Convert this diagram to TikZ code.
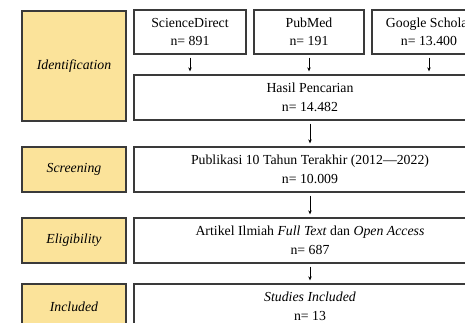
\documentclass[tikz,border=0pt]{standalone}
\usepackage{fontspec}
\setmainfont{Liberation Serif}
\usetikzlibrary{arrows.meta}
\definecolor{phase}{HTML}{FBE39A}
\definecolor{edge}{HTML}{3A3A3A}
\begin{document}
\begin{tikzpicture}[x=1pt,y=-1pt,
  base/.style={draw=edge,line width=1.3pt,rectangle,inner sep=0pt,align=center,
    font=\fontsize{13.8}{18.5}\selectfont},
  phasebox/.style={base,fill=phase,minimum width=104pt,font=\fontsize{13.8}{18.5}\selectfont\itshape},
  infobox/.style={base,fill=white},
  arr/.style={draw=black,line width=0.8pt,-{Stealth[length=4pt,width=3.5pt]},shorten <=3pt,shorten >=3pt}]
\useasboundingbox (0,0) rectangle (465,323);
\clip (0,0) rectangle (465,323);
% phase labels
\node[phasebox,minimum height=110pt] (pid) at (74,66) {Identification};
\node[phasebox,minimum height=45pt] (pscr) at (74,169.5) {Screening};
\node[phasebox,minimum height=45pt] (pel) at (74,240.5) {Eligibility};
\node[phasebox,minimum height=45pt] (pin) at (74,306.5) {Included};
% sources
\node[infobox,minimum width=112pt,minimum height=44pt] (sd) at (190,32) {ScienceDirect\\n= 891};
\node[infobox,minimum width=110pt,minimum height=44pt] (pm) at (309,32) {PubMed\\n= 191};
\node[infobox,minimum width=114pt,minimum height=44pt] (gs) at (429,32) {Google Scholar\\n= 13.400};
% main boxes
\node[infobox,minimum width=352pt,minimum height=45pt] (hp) at (310,97.5) {Hasil Pencarian\\n= 14.482};
\node[infobox,minimum width=352pt,minimum height=45pt] (pub) at (310,169.5) {Publikasi 10 Tahun Terakhir (2012—2022)\\n= 10.009};
\node[infobox,minimum width=352pt,minimum height=45pt] (art) at (310,240.5) {Artikel Ilmiah \textit{Full Text} dan \textit{Open Access}\\n= 687};
\node[infobox,minimum width=352pt,minimum height=45pt] (inc) at (310,306.5) {\textit{Studies Included}\\n= 13};
% arrows
\draw[arr] (sd.south) -- (sd.south |- hp.north);
\draw[arr] (pm.south) -- (pm.south |- hp.north);
\draw[arr] (gs.south) -- (gs.south |- hp.north);
\draw[arr] (hp.south) -- (pub.north);
\draw[arr] (pub.south) -- (art.north);
\draw[arr] (art.south) -- (inc.north);
\end{tikzpicture}
\end{document}
